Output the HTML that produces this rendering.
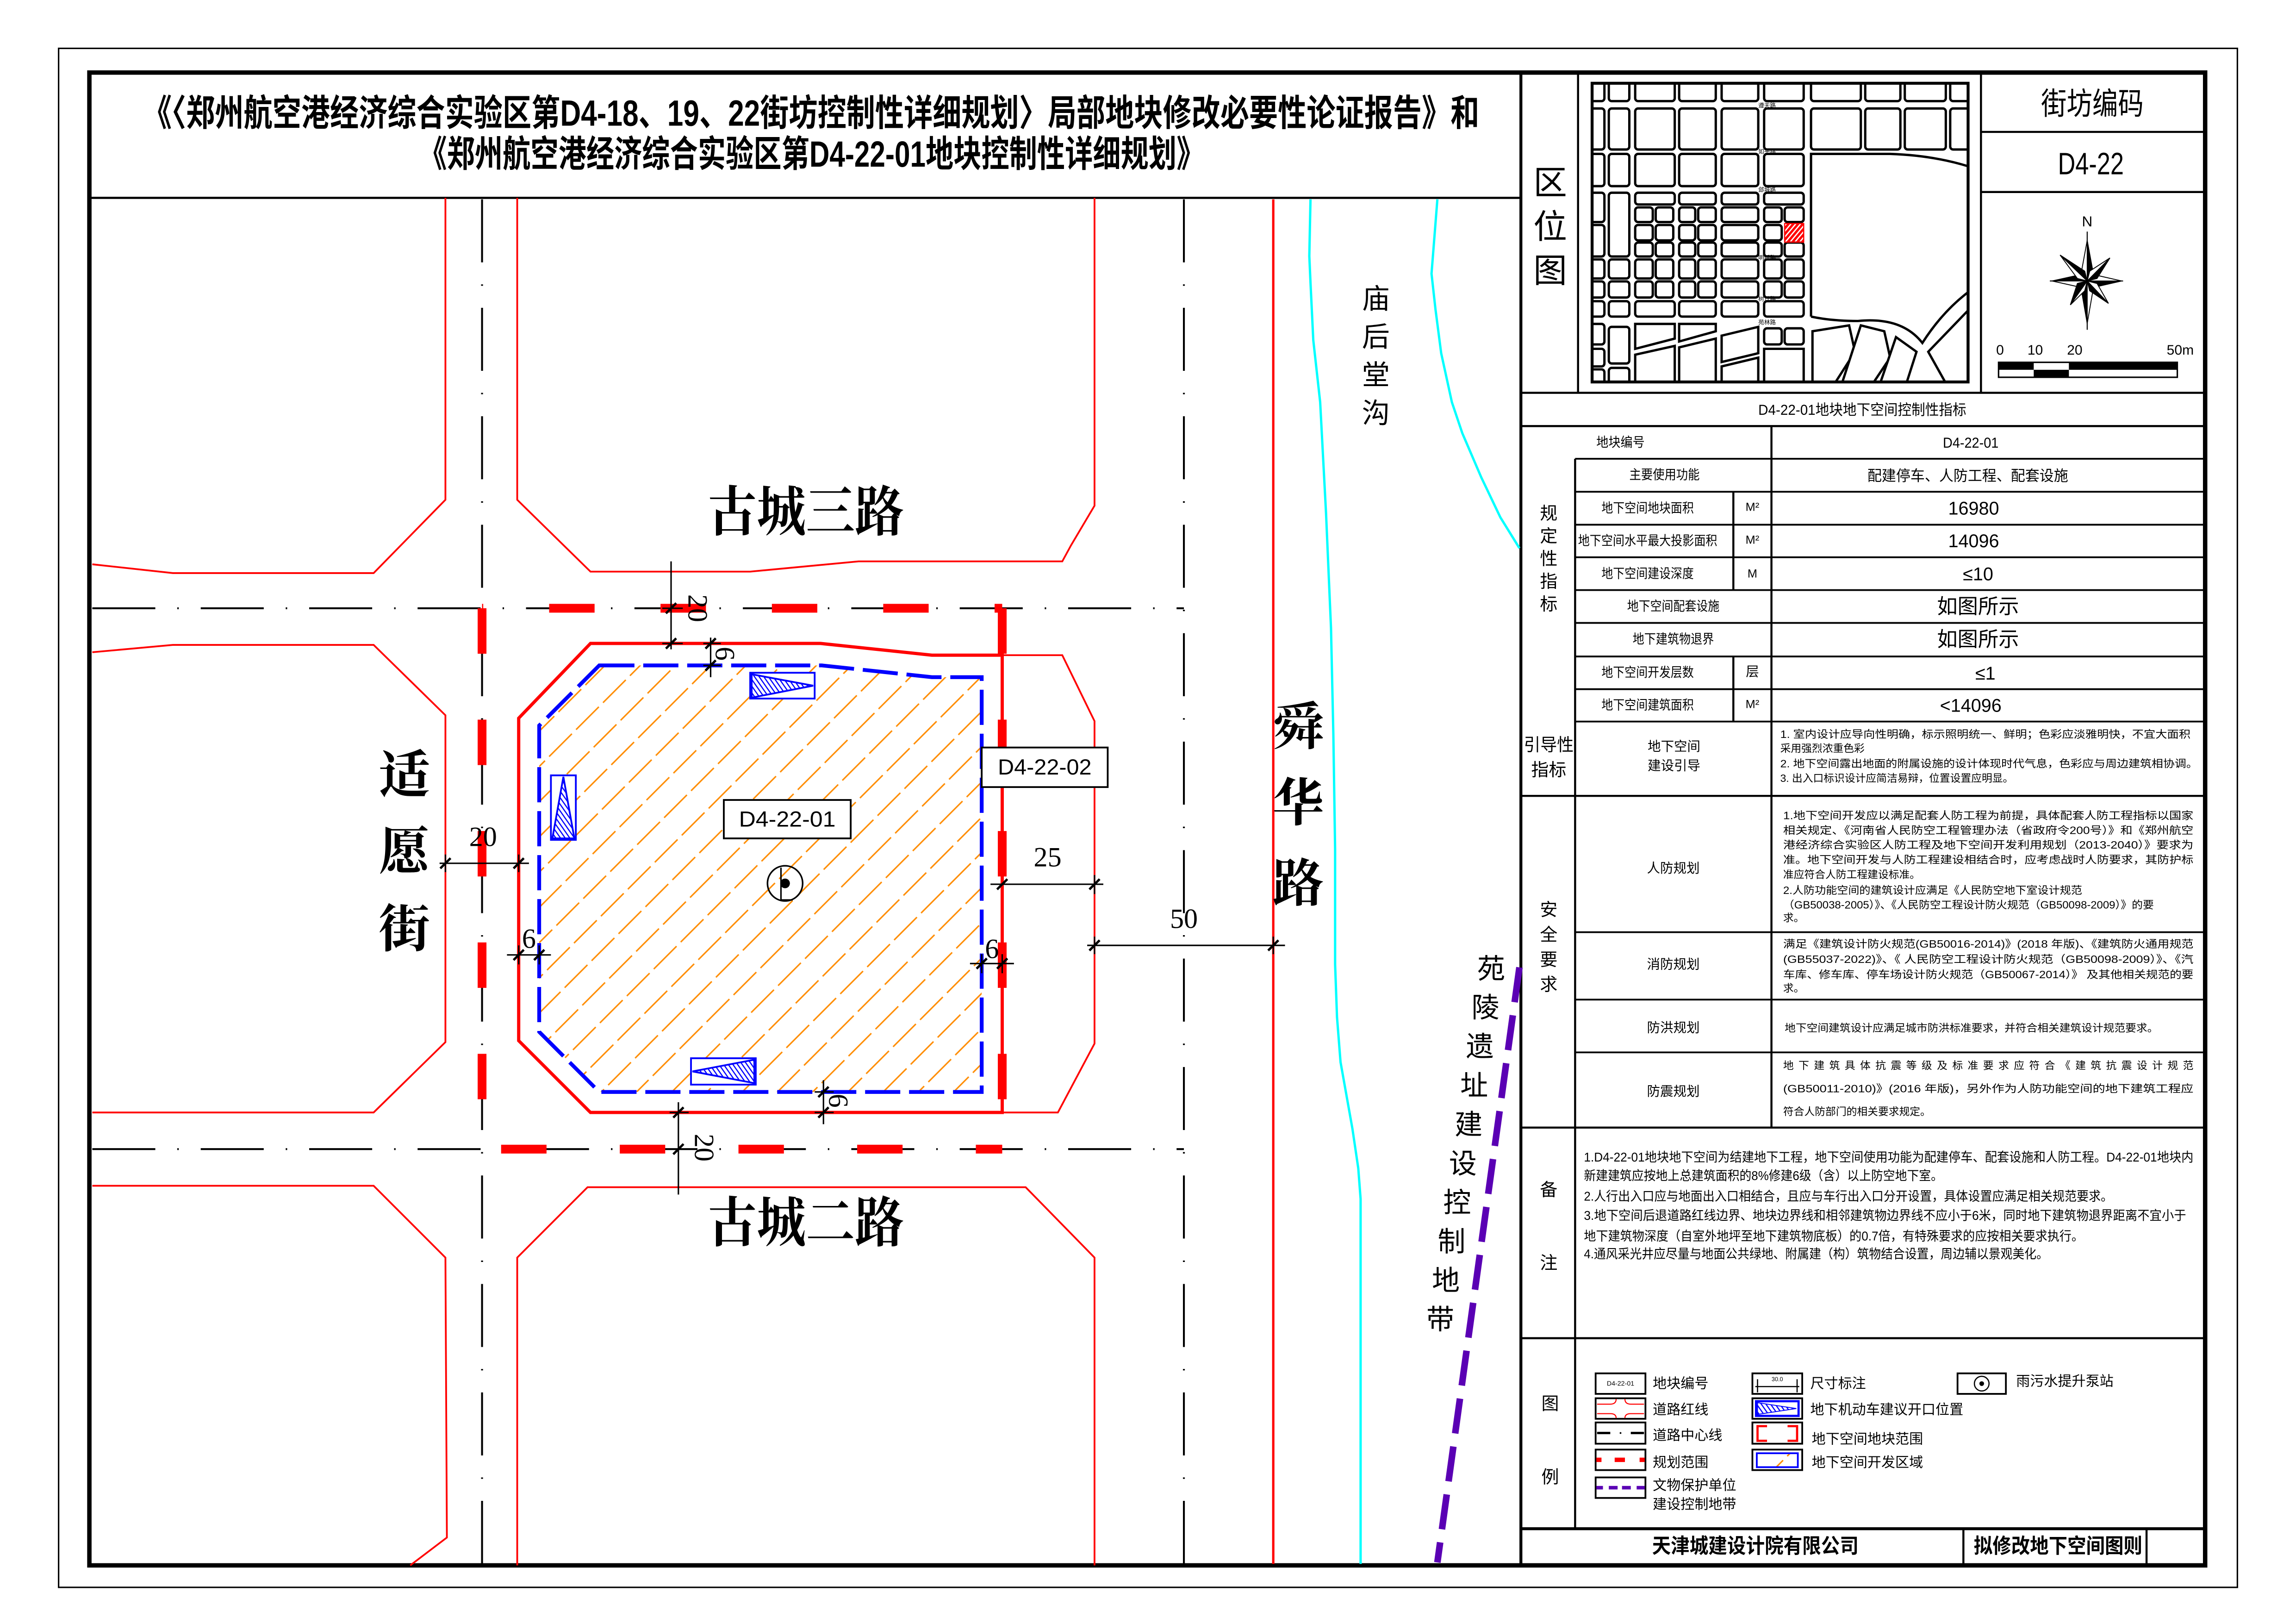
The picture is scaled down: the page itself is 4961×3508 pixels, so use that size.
<!DOCTYPE html>
<html><head><meta charset="utf-8"><style>
html,body{margin:0;padding:0;background:#fff}
svg{display:block}
text{font-family:"Liberation Sans","Noto Sans CJK SC",sans-serif;dominant-baseline:central}
.cj{font-family:"Liberation Sans","Noto Sans CJK SC",sans-serif}
.rd{font-family:"Liberation Serif","Noto Serif CJK SC",serif;font-weight:bold}
.sr{font-family:"Liberation Serif","Noto Serif CJK SC",serif}
</style></head><body>
<svg xmlns="http://www.w3.org/2000/svg" width="4961" height="3508" viewBox="0 0 1567 1108" preserveAspectRatio="none">
<defs>
<pattern id="oh" patternUnits="userSpaceOnUse" width="17" height="26" patternTransform="rotate(45)">
<line x1="1" y1="0" x2="1" y2="22" stroke="#ff8c00" stroke-width="1"/>
</pattern>
<pattern id="bh" patternUnits="userSpaceOnUse" width="2.6" height="10" patternTransform="rotate(-35)">
<line x1="1" y1="0" x2="1" y2="10" stroke="#0000ff" stroke-width="0.8"/>
</pattern>
<pattern id="rh" patternUnits="userSpaceOnUse" width="2.5" height="10" patternTransform="rotate(40)">
<rect width="1.6" height="10" fill="#ff0000"/>
</pattern>
<clipPath id="bc"><polygon points="409,454 561,454 636,462 670,462 670,745 409,745 368,704 368,495"/></clipPath>
<clipPath id="ic"><rect x="1086.6" y="56.8" width="256.6" height="203.8"/></clipPath>
<g id="tk"><line x1="-3.5" y1="3.5" x2="3.5" y2="-3.5" stroke="#000" stroke-width="1.6"/></g>
</defs>
<rect width="1567" height="1108" fill="#fff"/>
<!-- frames -->
<rect x="40" y="33" width="1487" height="1050" fill="none" stroke="#000" stroke-width="1"/>
<rect x="61" y="49.5" width="1444" height="1018.5" fill="none" stroke="#000" stroke-width="3"/>
<line x1="61" y1="135" x2="1038" y2="135" stroke="#000" stroke-width="1.5"/>
<line x1="1038" y1="49" x2="1038" y2="1068" stroke="#000" stroke-width="2"/>

<!-- title -->
<text x="97.6" y="77" font-size="25" textLength="912" lengthAdjust="spacingAndGlyphs" font-weight="bold">《〈郑州航空港经济综合实验区第D4-18、19、22街坊控制性详细规划〉局部地块修改必要性论证报告》和</text>
<text x="286" y="105" font-size="25" textLength="536" lengthAdjust="spacingAndGlyphs" font-weight="bold">《郑州航空港经济综合实验区第D4-22-01地块控制性详细规划》</text>

<!-- MAP -->
<g fill="none" stroke="#ff0000" stroke-width="1.2">
<path d="M63,385 L118,391 L255,391 L304,341 L304,135"/>
<path d="M63,445 L118,440 L255,440 L304,488 L304,711 L255,759 L63,759"/>
<path d="M63,809 L255,809 L304,858 L305,1049 L280,1068"/>
<path d="M353,135 L353,341 L403,390 L512,390 L586,383 L725,383 L731,372 L747,345 L747,135"/>
<path d="M684,447 L725,447 L747,492 L747,712 L722,759 L684,759"/>
<path d="M353,1068 L353,858 L401,810 L700,810 L747,858 L747,1068"/>
<line x1="869" y1="136" x2="869" y2="1067" stroke-width="1.6"/>
</g>
<!-- centerlines -->
<g stroke="#000" stroke-width="1.3" stroke-dasharray="43 15 1 15" fill="none">
<line x1="63" y1="415" x2="808" y2="415"/>
<line x1="63" y1="784" x2="808" y2="784"/>
<line x1="329" y1="136" x2="329" y2="1067"/>
<line x1="808" y1="136" x2="808" y2="1067"/>
</g>
<!-- rivers -->
<g fill="none" stroke="#00ffff" stroke-width="1.6">
<polyline points="894.4,136 893.6,174.7 894.4,192.7 896.3,232 901,274.4 905,350 908.4,428.5 910,501 911.2,579.5 911.2,658 912.5,694 914.9,724.6 923,770 927,797 928.6,818 928.6,1067"/>
<polyline points="981,136 977,186.7 979.7,211 983.6,241 990.9,274.4 998,295.5 1011,325.8 1024,353 1037,374"/>
</g>
<!-- hatch -->
<rect x="360" y="445" width="320" height="310" fill="url(#oh)" clip-path="url(#bc)"/>
<!-- site red line -->
<polygon points="403,439 560,439 636,447 684,447 684,759 403,759 354,710 354,490" fill="none" stroke="#ff0000" stroke-width="2.2"/>
<!-- blue dashed -->
<polygon points="409,454 561,454 636,462 670,462 670,745 409,745 368,704 368,495" fill="none" stroke="#0000ff" stroke-width="2.6" stroke-dasharray="24 6"/>
<!-- planning boundary -->
<g stroke="#ff0000" stroke-width="6" fill="none">
<line x1="329" y1="415" x2="329" y2="784" stroke-dasharray="31 45"/>
<line x1="684" y1="415" x2="684" y2="784" stroke-dasharray="31 45"/>
<line x1="329" y1="415" x2="684" y2="415" stroke-dasharray="31 45" stroke-dashoffset="30.2"/>
<line x1="329" y1="784" x2="684" y2="784" stroke-dasharray="31 50" stroke-dashoffset="68"/>
</g>
<!-- entrances -->
<g stroke="#0000ff" stroke-width="1.2">
<rect x="512" y="459" width="44" height="17.6" fill="#fff"/>
<polygon points="513,460 513,476 555,467.8" fill="url(#bh)"/>
<rect x="376" y="529" width="17" height="44" fill="#fff"/>
<polygon points="384.5,530 377,572 392,572" fill="url(#bh)"/>
<rect x="471.6" y="722" width="44.2" height="18" fill="#fff"/>
<polygon points="472.6,731 514.8,723 514.8,739" fill="url(#bh)"/>
</g>
<!-- labels -->
<rect x="494" y="545.8" width="86.6" height="26.2" fill="#fff" stroke="#000" stroke-width="1.2"/>
<text x="537.3" y="559" font-size="15" text-anchor="middle" textLength="66" lengthAdjust="spacingAndGlyphs">D4-22-01</text>
<rect x="670" y="510" width="86" height="27" fill="#fff" stroke="#000" stroke-width="1.2"/>
<text x="713" y="523.5" font-size="15" text-anchor="middle" textLength="64" lengthAdjust="spacingAndGlyphs">D4-22-02</text>
<!-- pump -->
<circle cx="535.8" cy="602.7" r="12" fill="none" stroke="#000" stroke-width="1.1"/>
<circle cx="535.8" cy="602.7" r="3.3" fill="#000"/>
<path d="M533,592 L533,614 L541,614" fill="none" stroke="#000" stroke-width="1"/>

<!-- dimensions -->
<g stroke="#000" stroke-width="1" fill="none">
<line x1="458" y1="383" x2="458" y2="443"/><line x1="452" y1="415" x2="466" y2="415"/><line x1="452" y1="439" x2="466" y2="439"/>
<line x1="485" y1="435" x2="485" y2="462"/><line x1="480" y1="439" x2="492" y2="439"/><line x1="480" y1="454" x2="492" y2="454"/>
<line x1="300" y1="589" x2="361" y2="589"/><line x1="304" y1="583" x2="304" y2="595"/><line x1="354" y1="583" x2="354" y2="595"/>
<line x1="346" y1="651.5" x2="376" y2="651.5"/><line x1="354" y1="645" x2="354" y2="658"/><line x1="368" y1="645" x2="368" y2="658"/>
<line x1="662" y1="657.4" x2="692" y2="657.4"/><line x1="670" y1="651" x2="670" y2="664"/><line x1="684" y1="651" x2="684" y2="664"/>
<line x1="676" y1="603.3" x2="753" y2="603.3"/><line x1="747" y1="597" x2="747" y2="610"/>
<line x1="742" y1="645" x2="877" y2="645"/><line x1="747" y1="639" x2="747" y2="651"/><line x1="869" y1="639" x2="869" y2="651"/>
<line x1="562" y1="737" x2="562" y2="767"/><line x1="556" y1="745" x2="569" y2="745"/><line x1="556" y1="759" x2="569" y2="759"/>
<line x1="463" y1="752" x2="463" y2="815"/><line x1="457" y1="759" x2="470" y2="759"/><line x1="457" y1="784" x2="470" y2="784"/>
</g>
<g>
<use href="#tk" x="458" y="415"/><use href="#tk" x="458" y="439"/>
<use href="#tk" x="485" y="439"/><use href="#tk" x="485" y="454"/>
<use href="#tk" x="304" y="589"/><use href="#tk" x="354" y="589"/>
<use href="#tk" x="354" y="651.5"/><use href="#tk" x="368" y="651.5"/>
<use href="#tk" x="670" y="657.4"/><use href="#tk" x="684" y="657.4"/>
<use href="#tk" x="684" y="603.3"/><use href="#tk" x="747" y="603.3"/>
<use href="#tk" x="747" y="645"/><use href="#tk" x="869" y="645"/>
<use href="#tk" x="562" y="745"/><use href="#tk" x="562" y="759"/>
<use href="#tk" x="463" y="759"/><use href="#tk" x="463" y="784"/>
</g>
<g class="sr" font-size="19" text-anchor="middle">
<text class="sr" x="476" y="415" transform="rotate(90 476 415)" text-anchor="middle">20</text>
<text class="sr" x="494.6" y="446" transform="rotate(90 494.6 446)" text-anchor="middle">6</text>
<text class="sr" x="329.7" y="571" text-anchor="middle">20</text>
<text class="sr" x="361" y="640.5" text-anchor="middle">6</text>
<text class="sr" x="677" y="647.5" text-anchor="middle">6</text>
<text class="sr" x="715" y="585" text-anchor="middle">25</text>
<text class="sr" x="808" y="627" text-anchor="middle">50</text>
<text class="sr" x="572" y="751" transform="rotate(90 572 751)" text-anchor="middle">6</text>
<text class="sr" x="480.5" y="783" transform="rotate(90 480.5 783)" text-anchor="middle">20</text>
</g>
<!-- road names -->
<text class="rd" x="550" y="350" font-size="37" text-anchor="middle" textLength="134" lengthAdjust="spacingAndGlyphs">古城三路</text>
<text class="rd" x="550" y="835" font-size="37" text-anchor="middle" textLength="134" lengthAdjust="spacingAndGlyphs">古城二路</text>
<g class="rd" font-size="35" text-anchor="middle">
<text class="rd" x="276" y="529" text-anchor="middle">适</text>
<text class="rd" x="276" y="581" text-anchor="middle">愿</text>
<text class="rd" x="276" y="634" text-anchor="middle">街</text>
<text class="rd" x="886" y="496" text-anchor="middle">舜</text>
<text class="rd" x="886" y="548" text-anchor="middle">华</text>
<text class="rd" x="886" y="603" text-anchor="middle">路</text>
</g>
<g font-size="19" text-anchor="middle">
<text x="939" y="204" text-anchor="middle">庙</text>
<text x="939" y="230" text-anchor="middle">后</text>
<text x="939" y="256" text-anchor="middle">堂</text>
<text x="939" y="282" text-anchor="middle">沟</text>
</g>
<line x1="1037" y1="660" x2="981" y2="1066" stroke="#5a00b4" stroke-width="4.5" stroke-dasharray="24 9"/>
<g font-size="19" text-anchor="middle">
<text x="1017.7" y="661" text-anchor="middle">苑</text>
<text x="1013.8" y="687.6" text-anchor="middle">陵</text>
<text x="1010" y="714.2" text-anchor="middle">遗</text>
<text x="1006.1" y="740.8" text-anchor="middle">址</text>
<text x="1002.3" y="767.4" text-anchor="middle">建</text>
<text x="998.4" y="794" text-anchor="middle">设</text>
<text x="994.5" y="820.6" text-anchor="middle">控</text>
<text x="990.7" y="847.2" text-anchor="middle">制</text>
<text x="986.8" y="873.8" text-anchor="middle">地</text>
<text x="983" y="900.4" text-anchor="middle">带</text>
</g>

<!-- RIGHT PANEL -->
<g stroke="#000" stroke-width="1.4">
<line x1="1077" y1="49" x2="1077" y2="268"/>
<line x1="1352" y1="49" x2="1352" y2="268"/>
<line x1="1352" y1="90" x2="1505" y2="90"/>
<line x1="1352" y1="131" x2="1505" y2="131"/>
<line x1="1038" y1="268" x2="1505" y2="268"/>
<line x1="1038" y1="290.7" x2="1505" y2="290.7"/>
<line x1="1038" y1="543" x2="1505" y2="543"/>
<line x1="1038" y1="769.3" x2="1505" y2="769.3"/>
<line x1="1038" y1="913" x2="1505" y2="913"/>
<line x1="1038" y1="1043" x2="1505" y2="1043" stroke-width="2"/>
<line x1="1075" y1="313" x2="1075" y2="1043"/>
<line x1="1209" y1="290.7" x2="1209" y2="769.3"/>
<line x1="1183" y1="335.5" x2="1183" y2="402.6"/>
<line x1="1183" y1="447.9" x2="1183" y2="492.3"/>
<line x1="1340" y1="1043" x2="1340" y2="1068"/>
<line x1="1465" y1="1043" x2="1465" y2="1068"/>
</g>
<g stroke="#000" stroke-width="1.2">
<line x1="1075" y1="313" x2="1505" y2="313"/>
<line x1="1075" y1="335.5" x2="1505" y2="335.5"/>
<line x1="1075" y1="358" x2="1505" y2="358"/>
<line x1="1075" y1="380.2" x2="1505" y2="380.2"/>
<line x1="1075" y1="402.6" x2="1505" y2="402.6"/>
<line x1="1075" y1="425" x2="1505" y2="425"/>
<line x1="1075" y1="447.9" x2="1505" y2="447.9"/>
<line x1="1075" y1="470.2" x2="1505" y2="470.2"/>
<line x1="1075" y1="492.3" x2="1505" y2="492.3"/>
<line x1="1075" y1="636" x2="1505" y2="636"/>
<line x1="1075" y1="682" x2="1505" y2="682"/>
<line x1="1075" y1="718" x2="1505" y2="718"/>
</g>

<!-- location inset -->
<g clip-path="url(#ic)" fill="#fff" stroke="#000" stroke-width="1.6">
<g>
<rect x="1080" y="50" width="15" height="19" rx="2"/><rect x="1098" y="50" width="14" height="19" rx="2"/><rect x="1116" y="50" width="27" height="19" rx="2"/><rect x="1146" y="50" width="25" height="19" rx="2"/><rect x="1175" y="50" width="25" height="19" rx="2"/><rect x="1204" y="50" width="27" height="19" rx="2"/><rect x="1236" y="50" width="34" height="19" rx="2"/><rect x="1273" y="50" width="24" height="19" rx="2"/><rect x="1300" y="50" width="28" height="19" rx="2"/><rect x="1331" y="50" width="20" height="19" rx="2"/>
<rect x="1080" y="74" width="15" height="28" rx="2"/><rect x="1098" y="74" width="14" height="28" rx="2"/><rect x="1116" y="74" width="27" height="28" rx="2"/><rect x="1146" y="74" width="25" height="28" rx="2"/><rect x="1175" y="74" width="25" height="28" rx="2"/><rect x="1204" y="74" width="27" height="28" rx="2"/><rect x="1236" y="74" width="34" height="28" rx="2"/><rect x="1273" y="74" width="24" height="28" rx="2"/><rect x="1300" y="74" width="28" height="28" rx="2"/><rect x="1331" y="74" width="20" height="28" rx="2"/>
<rect x="1080" y="105" width="15" height="22" rx="2"/><rect x="1098" y="105" width="14" height="22" rx="2"/><rect x="1116" y="105" width="27" height="22" rx="2"/><rect x="1146" y="105" width="25" height="22" rx="2"/><rect x="1175" y="105" width="25" height="22" rx="2"/><rect x="1204" y="105" width="27" height="22" rx="2"/>
<rect x="1116" y="131.5" width="27" height="8" rx="2"/><rect x="1146" y="131.5" width="25" height="8" rx="2"/><rect x="1175" y="131.5" width="25" height="8" rx="2"/><rect x="1204" y="131.5" width="27" height="8" rx="2"/>
<rect x="1080" y="131.5" width="15" height="20" rx="2"/><rect x="1080" y="153.5" width="15" height="21.5" rx="2"/><rect x="1098" y="131.5" width="14" height="43.5" rx="2"/>
</g>
<g>
<rect x="1116" y="141.5" width="12" height="10" rx="2"/><rect x="1130" y="141.5" width="12" height="10" rx="2"/><rect x="1146" y="141.5" width="11" height="10" rx="2"/><rect x="1159" y="141.5" width="12" height="10" rx="2"/><rect x="1175" y="141.5" width="25" height="10" rx="2"/><rect x="1204" y="141.5" width="12" height="10" rx="2"/><rect x="1218" y="141.5" width="13" height="10" rx="2"/>
<rect x="1116" y="153.5" width="12" height="10.5" rx="2"/><rect x="1130" y="153.5" width="12" height="10.5" rx="2"/><rect x="1146" y="153.5" width="11" height="10.5" rx="2"/><rect x="1159" y="153.5" width="12" height="10.5" rx="2"/><rect x="1175" y="153.5" width="25" height="10.5" rx="2"/><rect x="1204" y="153.5" width="12" height="10.5" rx="2"/>
<rect x="1116" y="165.5" width="12" height="9.5" rx="2"/><rect x="1130" y="165.5" width="12" height="9.5" rx="2"/><rect x="1146" y="165.5" width="11" height="9.5" rx="2"/><rect x="1159" y="165.5" width="12" height="9.5" rx="2"/><rect x="1175" y="165.5" width="25" height="9.5" rx="2"/><rect x="1204" y="165.5" width="12" height="9.5" rx="2"/><rect x="1218" y="165.5" width="13" height="9.5" rx="2"/>
<rect x="1080" y="177" width="15" height="13" rx="2"/><rect x="1098" y="177" width="14" height="13" rx="2"/><rect x="1116" y="177" width="12" height="13" rx="2"/><rect x="1130" y="177" width="12" height="13" rx="2"/><rect x="1146" y="177" width="11" height="13" rx="2"/><rect x="1159" y="177" width="12" height="13" rx="2"/><rect x="1175" y="177" width="25" height="13" rx="2"/><rect x="1204" y="177" width="12" height="13" rx="2"/><rect x="1218" y="177" width="13" height="13" rx="2"/>
<rect x="1080" y="192" width="15" height="11" rx="2"/><rect x="1098" y="192" width="14" height="11" rx="2"/><rect x="1116" y="192" width="12" height="11" rx="2"/><rect x="1130" y="192" width="12" height="11" rx="2"/><rect x="1146" y="192" width="11" height="11" rx="2"/><rect x="1159" y="192" width="12" height="11" rx="2"/><rect x="1175" y="192" width="25" height="11" rx="2"/><rect x="1204" y="192" width="12" height="11" rx="2"/><rect x="1218" y="192" width="13" height="11" rx="2"/>
<rect x="1080" y="205.5" width="15" height="10.5" rx="2"/><rect x="1098" y="205.5" width="14" height="10.5" rx="2"/><rect x="1116" y="205.5" width="27" height="10.5" rx="2"/><rect x="1146" y="205.5" width="25" height="10.5" rx="2"/><rect x="1175" y="205.5" width="25" height="10.5" rx="2"/><rect x="1204" y="205.5" width="27" height="10.5" rx="2"/>
<rect x="1080" y="221" width="15" height="14" rx="2"/><rect x="1080" y="238" width="15" height="12" rx="2"/><rect x="1080" y="252" width="15" height="12" rx="2"/>
<rect x="1098" y="223" width="14" height="25" rx="2"/><rect x="1098" y="251" width="14" height="14" rx="2"/>
<polygon points="1116,221 1143,221 1143,231 1116,238"/>
<polygon points="1146,221 1171,221 1171,226 1146,233"/>
<rect x="1204" y="224" width="12" height="11" rx="2"/><rect x="1218" y="224" width="13" height="11" rx="2"/>
<polygon points="1116,242 1143,236 1143,265 1116,265"/>
<polygon points="1146,237 1171,231 1171,265 1146,265"/>
<polygon points="1175,229 1200,223 1200,241 1175,247"/>
<polygon points="1175,250 1200,244 1200,265 1175,265"/>
<polygon points="1204,238 1231,238 1231,265 1204,265"/>
<polygon points="1237,226 1262,222 1266,240 1250,265 1237,265"/>
<polygon points="1270,222 1286,226 1290,244 1276,265 1256,265"/>
<polygon points="1294,230 1308,240 1300,265 1282,265"/>
<polygon points="1316,240 1343,212 1343,265 1330,265"/>
</g>
<path d="M1236,216 L1236,105 L1290,105 Q1320,106 1345,114" fill="none"/>
<path d="M1236,216 Q1250,219 1268,219 Q1298,216 1312,234 Q1326,212 1345,198" fill="none"/>
<rect x="1218" y="152.5" width="13" height="12.7" fill="url(#rh)" stroke="#ff0000" stroke-width="0.8"/>
</g>
<rect x="1086.6" y="56.8" width="256.6" height="203.8" fill="none" stroke="#000" stroke-width="2"/>
<g font-size="4" text-anchor="middle">
<text x="1206" y="72" text-anchor="middle">遵天路</text><text x="1206" y="103.5" text-anchor="middle">如平路</text><text x="1206" y="129.5" text-anchor="middle">郐城路</text><text x="1206" y="176" text-anchor="middle">明廷路</text><text x="1206" y="204" text-anchor="middle">树丘路</text><text x="1206" y="220" text-anchor="middle">苑林路</text>
</g>

<!-- 区位图 label -->
<g font-size="23" text-anchor="middle">
<text x="1058" y="125" text-anchor="middle">区</text>
<text x="1058" y="155" text-anchor="middle">位</text>
<text x="1058" y="185" text-anchor="middle">图</text>
</g>
<text x="1428" y="71" font-size="21" text-anchor="middle" textLength="70" lengthAdjust="spacingAndGlyphs">街坊编码</text>
<text x="1427" y="112" font-size="21" text-anchor="middle" textLength="45" lengthAdjust="spacingAndGlyphs">D4-22</text>
<!-- compass -->
<text x="1424.5" y="151" font-size="10" text-anchor="middle">N</text>
<line x1="1424.5" y1="158" x2="1424.5" y2="225" stroke="#000" stroke-width="0.7"/>
<line x1="1399" y1="191.7" x2="1449" y2="191.7" stroke="#000" stroke-width="0.7"/>
<g stroke="#000" stroke-width="0.6">
<polygon points="1424.5,164 1424.5,191.7 1428.5,185.7" fill="#000"/><polygon points="1424.5,164 1424.5,191.7 1420.5,185.7" fill="#fff"/>
<polygon points="1424.5,220.7 1424.5,191.7 1420.5,197.7" fill="#000"/><polygon points="1424.5,220.7 1424.5,191.7 1428.5,197.7" fill="#fff"/>
<polygon points="1448,191.7 1424.5,191.7 1430.5,195.7" fill="#000"/><polygon points="1448,191.7 1424.5,191.7 1430.5,187.7" fill="#fff"/>
<polygon points="1400.5,191.7 1424.5,191.7 1418.5,187.7" fill="#000"/><polygon points="1400.5,191.7 1424.5,191.7 1418.5,195.7" fill="#fff"/>
<polygon points="1440,176 1424.5,191.7 1431.2,190" fill="#000"/><polygon points="1440,176 1424.5,191.7 1426.2,185" fill="#fff"/>
<polygon points="1406,174 1424.5,191.7 1422.8,185" fill="#000"/><polygon points="1406,174 1424.5,191.7 1417.8,190" fill="#fff"/>
<polygon points="1439,207 1424.5,191.7 1426.2,198.4" fill="#000"/><polygon points="1439,207 1424.5,191.7 1431.2,193.4" fill="#fff"/>
<polygon points="1413,208 1424.5,191.7 1417.8,193.4" fill="#000"/><polygon points="1413,208 1424.5,191.7 1422.8,198.4" fill="#fff"/>
</g>
<!-- scale bar -->
<g font-size="9.5" text-anchor="middle">
<text x="1365" y="239" text-anchor="middle">0</text><text x="1389" y="239" text-anchor="middle">10</text><text x="1416" y="239" text-anchor="middle">20</text><text x="1488" y="239" text-anchor="middle">50m</text>
</g>
<rect x="1364" y="247.2" width="122" height="10.2" fill="#fff" stroke="#000" stroke-width="1"/>
<rect x="1364" y="247.2" width="24" height="5.1" fill="#000"/>
<rect x="1412" y="247.2" width="74" height="5.1" fill="#000"/>
<rect x="1388" y="252.3" width="24" height="5.1" fill="#000"/>

<!-- TABLE TEXT -->
<text x="1271" y="279.5" font-size="10" text-anchor="middle" textLength="142" lengthAdjust="spacingAndGlyphs">D4-22-01地块地下空间控制性指标</text>
<g font-size="9">
<text x="1106" y="302" text-anchor="middle" textLength="33" lengthAdjust="spacingAndGlyphs">地块编号</text>
<text x="1345" y="302" text-anchor="middle" font-size="10" textLength="38" lengthAdjust="spacingAndGlyphs">D4-22-01</text>
<text x="1136" y="324" text-anchor="middle" textLength="48" lengthAdjust="spacingAndGlyphs">主要使用功能</text>
<text x="1343" y="324.5" text-anchor="middle" font-size="10" textLength="137" lengthAdjust="spacingAndGlyphs">配建停车、人防工程、配套设施</text>
<text x="1124.5" y="346.8" text-anchor="middle" textLength="63" lengthAdjust="spacingAndGlyphs">地下空间地块面积</text>
<text x="1124.5" y="369" text-anchor="middle" textLength="95" lengthAdjust="spacingAndGlyphs">地下空间水平最大投影面积</text>
<text x="1124.5" y="391.5" text-anchor="middle" textLength="63" lengthAdjust="spacingAndGlyphs">地下空间建设深度</text>
<text x="1142" y="413.8" text-anchor="middle" textLength="63" lengthAdjust="spacingAndGlyphs">地下空间配套设施</text>
<text x="1142" y="436.2" text-anchor="middle" textLength="55.5" lengthAdjust="spacingAndGlyphs">地下建筑物退界</text>
<text x="1124.5" y="459" text-anchor="middle" textLength="63" lengthAdjust="spacingAndGlyphs">地下空间开发层数</text>
<text x="1124.5" y="481.2" text-anchor="middle" textLength="63" lengthAdjust="spacingAndGlyphs">地下空间建筑面积</text>
<text x="1196" y="346" text-anchor="middle" font-size="8">M²</text>
<text x="1196" y="368.5" text-anchor="middle" font-size="8">M²</text>
<text x="1196" y="391.5" text-anchor="middle" font-size="8">M</text>
<text x="1196" y="458.5" text-anchor="middle" font-size="9">层</text>
<text x="1196" y="480.5" text-anchor="middle" font-size="8">M²</text>
</g>
<g font-size="12.5" text-anchor="middle">
<text x="1347" y="347" text-anchor="middle">16980</text>
<text x="1347" y="369.2" text-anchor="middle">14096</text>
<text x="1350" y="391.8" text-anchor="middle">≤10</text>
<text x="1350" y="414" text-anchor="middle" font-size="14">如图所示</text>
<text x="1350" y="436.3" text-anchor="middle" font-size="14">如图所示</text>
<text x="1355" y="459.5" text-anchor="middle">≤1</text>
<text x="1345" y="481.5" text-anchor="middle">&lt;14096</text>
</g>
<g font-size="12" text-anchor="middle">
<text x="1057" y="350.6" text-anchor="middle">规</text>
<text x="1057" y="366" text-anchor="middle">定</text>
<text x="1057" y="381.5" text-anchor="middle">性</text>
<text x="1057" y="397" text-anchor="middle">指</text>
<text x="1057" y="412.5" text-anchor="middle">标</text>
<text x="1057" y="508.5" text-anchor="middle" textLength="34" lengthAdjust="spacingAndGlyphs">引导性</text>
<text x="1057" y="525.5" text-anchor="middle">指标</text>
<text x="1057" y="621" text-anchor="middle">安</text>
<text x="1057" y="638" text-anchor="middle">全</text>
<text x="1057" y="655" text-anchor="middle">要</text>
<text x="1057" y="672" text-anchor="middle">求</text>
<text x="1057" y="812" text-anchor="middle">备</text>
<text x="1057" y="862" text-anchor="middle">注</text>
<text x="1058" y="958" text-anchor="middle">图</text>
<text x="1058" y="1008" text-anchor="middle">例</text>
</g>
<g font-size="9" text-anchor="middle">
<text x="1142.5" y="509.5" text-anchor="middle">地下空间</text>
<text x="1142.5" y="522.5" text-anchor="middle">建设引导</text>
<text x="1142" y="592.6" text-anchor="middle">人防规划</text>
<text x="1142" y="658" text-anchor="middle">消防规划</text>
<text x="1142" y="701.4" text-anchor="middle">防洪规划</text>
<text x="1142" y="744.7" text-anchor="middle">防震规划</text>
</g>
<g font-size="7.2">
<text x="1215" y="501" textLength="280" lengthAdjust="spacingAndGlyphs">1. 室内设计应导向性明确，标示照明统一、鲜明；色彩应淡雅明快，不宜大面积</text>
<text x="1215" y="510.5">采用强烈浓重色彩</text>
<text x="1215" y="521" textLength="285" lengthAdjust="spacingAndGlyphs">2. 地下空间露出地面的附属设施的设计体现时代气息，色彩应与周边建筑相协调。</text>
<text x="1215" y="531">3. 出入口标识设计应简洁易辩，位置设置应明显。</text>
<text x="1217" y="556.4" textLength="280" lengthAdjust="spacingAndGlyphs">1.地下空间开发应以满足配套人防工程为前提，具体配套人防工程指标以国家</text>
<text x="1217" y="566.4" textLength="280" lengthAdjust="spacingAndGlyphs">相关规定、《河南省人民防空工程管理办法（省政府令200号）》和《郑州航空</text>
<text x="1217" y="576.4" textLength="280" lengthAdjust="spacingAndGlyphs">港经济综合实验区人防工程及地下空间开发利用规划（2013-2040）》要求为</text>
<text x="1217" y="586.5" textLength="280" lengthAdjust="spacingAndGlyphs">准。地下空间开发与人防工程建设相结合时，应考虑战时人防要求，其防护标</text>
<text x="1217" y="596.6">准应符合人防工程建设标准。</text>
<text x="1217" y="607.4" textLength="204" lengthAdjust="spacingAndGlyphs">2.人防功能空间的建筑设计应满足《人民防空地下室设计规范</text>
<text x="1217" y="617.4" textLength="253" lengthAdjust="spacingAndGlyphs">（GB50038-2005）》、《人民防空工程设计防火规范（GB50098-2009）》的要</text>
<text x="1217" y="626.2">求。</text>
<text x="1217" y="644" textLength="280" lengthAdjust="spacingAndGlyphs">满足《建筑设计防火规范(GB50016-2014)》(2018 年版)、《建筑防火通用规范</text>
<text x="1217" y="654.5" textLength="280" lengthAdjust="spacingAndGlyphs">(GB55037-2022)》、《 人民防空工程设计防火规范（GB50098-2009）》、《汽</text>
<text x="1217" y="664.8" textLength="280" lengthAdjust="spacingAndGlyphs">车库、修车库、停车场设计防火规范（GB50067-2014）》 及其他相关规范的要</text>
<text x="1217" y="674.2">求。</text>
<text x="1218" y="701.4" textLength="255" lengthAdjust="spacingAndGlyphs">地下空间建筑设计应满足城市防洪标准要求，并符合相关建筑设计规范要求。</text>
<text x="1217" y="727" textLength="280" lengthAdjust="spacing">地下建筑具体抗震等级及标准要求应符合《建筑抗震设计规范</text>
<text x="1217" y="742.7" textLength="280" lengthAdjust="spacingAndGlyphs">(GB50011-2010)》(2016 年版)，另外作为人防功能空间的地下建筑工程应</text>
<text x="1217" y="758.4">符合人防部门的相关要求规定。</text>
</g>
<g font-size="8.8">
<text x="1081" y="789.4" textLength="416" lengthAdjust="spacingAndGlyphs">1.D4-22-01地块地下空间为结建地下工程，地下空间使用功能为配建停车、配套设施和人防工程。D4-22-01地块内</text>
<text x="1081" y="802.1" textLength="245" lengthAdjust="spacingAndGlyphs">新建建筑应按地上总建筑面积的8%修建6级（含）以上防空地下室。</text>
<text x="1081" y="816.2" textLength="361" lengthAdjust="spacingAndGlyphs">2.人行出入口应与地面出入口相结合，且应与车行出入口分开设置，具体设置应满足相关规范要求。</text>
<text x="1081" y="829.3" textLength="411" lengthAdjust="spacingAndGlyphs">3.地下空间后退道路红线边界、地块边界线和相邻建筑物边界线不应小于6米，同时地下建筑物退界距离不宜小于</text>
<text x="1081" y="843.4" textLength="341" lengthAdjust="spacingAndGlyphs">地下建筑物深度（自室外地坪至地下建筑物底板）的0.7倍，有特殊要求的应按相关要求执行。</text>
<text x="1081" y="855.5" textLength="317" lengthAdjust="spacingAndGlyphs">4.通风采光井应尽量与地面公共绿地、附属建（构）筑物结合设置，周边辅以景观美化。</text>
</g>

<!-- LEGEND -->
<g fill="#fff" stroke="#000" stroke-width="1.2">
<rect x="1089" y="937" width="34" height="14"/><rect x="1089" y="954" width="34" height="14"/><rect x="1089" y="970.5" width="34" height="14.5"/><rect x="1089" y="989" width="34" height="14"/><rect x="1089" y="1008" width="34" height="14"/>
<rect x="1196" y="937" width="34" height="14"/><rect x="1196" y="954" width="34" height="14"/><rect x="1196" y="970.5" width="34" height="14.5"/><rect x="1196" y="989" width="34" height="14"/>
<rect x="1336" y="937" width="33" height="14"/>
</g>
<text x="1106" y="944" font-size="4.5" text-anchor="middle">D4-22-01</text>
<path d="M1090,958 L1099,958 Q1103,958 1103,954.5 M1090,964.5 L1099,964.5 Q1103,964.5 1103,967.5 M1122,958 L1113,958 Q1109,958 1109,954.5 M1122,964.5 L1113,964.5 Q1109,964.5 1109,967.5" fill="none" stroke="#ff0000" stroke-width="0.7"/>
<path d="M1090,977.7 L1099,977.7 M1113,977.7 L1122,977.7" stroke="#000" stroke-width="1.6"/><circle cx="1106" cy="977.7" r="0.6" fill="#000"/>
<path d="M1089.5,996 L1093,996 M1102,996 L1109,996 M1119,996 L1122.5,996" stroke="#ff0000" stroke-width="3"/>
<path d="M1089.5,1015 L1094,1015 M1098,1015 L1104,1015 M1107,1015 L1113,1015 M1117,1015 L1122.5,1015" stroke="#5a00b4" stroke-width="2.4"/>
<path d="M1198,946 L1228,946 M1199.5,941 L1199.5,950 M1226.5,941 L1226.5,950" stroke="#000" stroke-width="0.8"/>
<text x="1213" y="941" font-size="4" text-anchor="middle">30.0</text>
<rect x="1198.5" y="956" width="29" height="10" fill="#fff" stroke="#0000ff" stroke-width="1.5"/>
<polygon points="1199.5,957 1199.5,965 1226,961" fill="url(#bh)" stroke="#0000ff" stroke-width="0.6"/>
<path d="M1206,973 L1199.5,973 L1199.5,983 L1206,983 M1220,973 L1226.5,973 L1226.5,983 L1220,983" fill="none" stroke="#ff0000" stroke-width="1.5"/>
<rect x="1199" y="991.5" width="28" height="9.5" fill="url(#oh)" stroke="#0000ff" stroke-width="1.2"/>
<circle cx="1352.5" cy="944" r="5" fill="none" stroke="#000" stroke-width="0.8"/><circle cx="1352.5" cy="944" r="1.6" fill="#000"/>
<g font-size="9.5">
<text x="1128" y="944">地块编号</text>
<text x="1128" y="962">道路红线</text>
<text x="1128" y="979.5">道路中心线</text>
<text x="1128" y="998">规划范围</text>
<text x="1128" y="1013.5">文物保护单位</text>
<text x="1128" y="1026.5">建设控制地带</text>
<text x="1235.5" y="944">尺寸标注</text>
<text x="1235.5" y="962">地下机动车建议开口位置</text>
<text x="1236.5" y="982">地下空间地块范围</text>
<text x="1236.5" y="998">地下空间开发区域</text>
<text x="1376" y="942.5">雨污水提升泵站</text>
</g>
<!-- footer -->
<text x="1198" y="1055" font-size="14" font-weight="bold" text-anchor="middle" textLength="141" lengthAdjust="spacingAndGlyphs">天津城建设计院有限公司</text>
<text x="1404.6" y="1055" font-size="14" font-weight="bold" text-anchor="middle" textLength="115" lengthAdjust="spacingAndGlyphs">拟修改地下空间图则</text>
</svg>
</body></html>
